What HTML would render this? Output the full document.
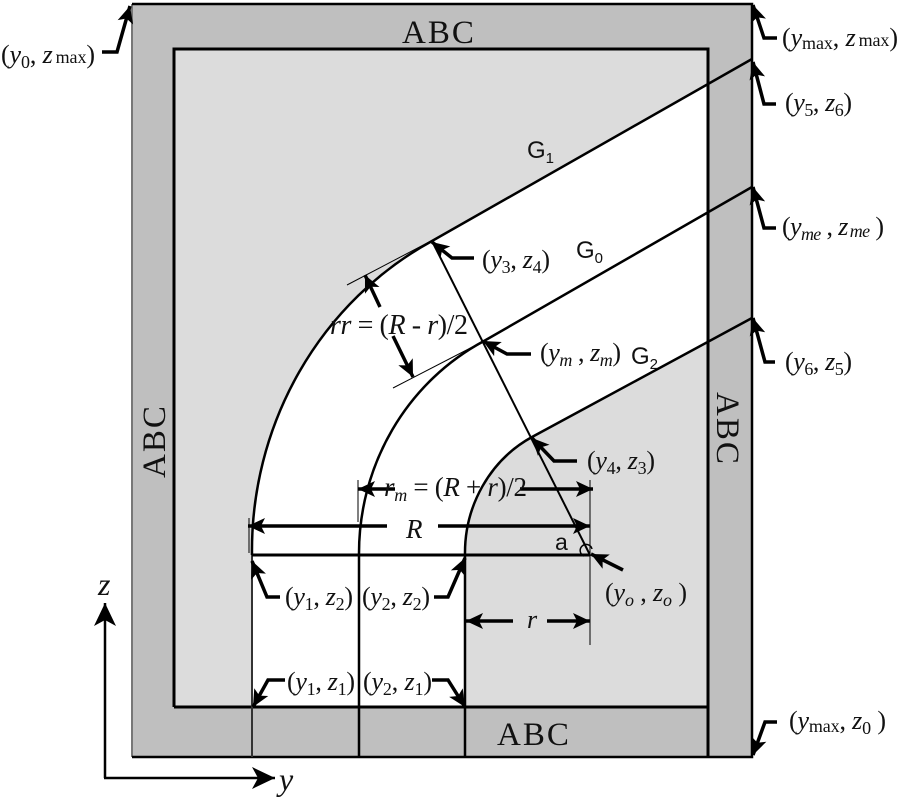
<!DOCTYPE html>
<html><head><meta charset="utf-8"><style>
html,body{margin:0;padding:0;background:#fff}
svg{display:block}
text{font-family:"Liberation Serif",serif;font-size:26px;fill:#111}
.s{font-size:18px}
.i{font-style:italic}
.g{font-family:"Liberation Sans",sans-serif;font-size:24px}
.gs{font-family:"Liberation Sans",sans-serif;font-size:15px}
.abc{font-size:33px;letter-spacing:2px}
</style></head><body>
<svg width="900" height="800" viewBox="0 0 900 800" xmlns="http://www.w3.org/2000/svg">
<defs>
<marker id="a" markerUnits="userSpaceOnUse" markerWidth="22" markerHeight="22" refX="18" refY="11" orient="auto">
<path d="M18 11 L1 3 L5 11 L1 19 Z" fill="#000"/>
</marker>
<marker id="b" markerUnits="userSpaceOnUse" markerWidth="30" markerHeight="30" refX="24" refY="15" orient="auto">
<path d="M24 15 L1 4 L7 15 L1 26 Z" fill="#000"/>
</marker>
</defs>
<rect x="132" y="4" width="620" height="753" fill="#bfbfbf"/>
<path d="M132 757V4" stroke="#777" stroke-width="2"/>
<path d="M132 4H752V757H132" fill="none" stroke="#000" stroke-width="2.5"/>
<rect x="174" y="49" width="534" height="658" fill="#dcdcdc"/>
<path d="M252 707V555A338 350 0 0 1 432 241L708 84V342L532 437A125 131 0 0 0 465 555V707Z" fill="#fff"/>
<path d="M174 707V49H708V757M174 707H708" fill="none" stroke="#000" stroke-width="3"/>
<g fill="none" stroke="#000">
<path d="M252 555A338 350 0 0 1 432 241L752 59" stroke-width="2.5"/>
<path d="M359 555A231 239 0 0 1 484 341L752 187" stroke-width="2.5"/>
<path d="M465 555A125 131 0 0 1 532 437L752 318" stroke-width="2.5"/>
<path d="M252 555V757" stroke="#333" stroke-width="2"/>
<path d="M359 555V757" stroke-width="2.5"/>
<path d="M465 555V757" stroke-width="2.5"/>
<path d="M252 555H590" stroke-width="3"/>
<path d="M590 555L432 241" stroke-width="2"/>
<path d="M590 480V645M249 518V553M358 480V522" stroke-width="1"/>
<path d="M347 285L431 241M393 388L484 341" stroke-width="1"/>
<path d="M584 556A6 6 0 1 1 592 549" stroke-width="1.5"/>
<g stroke-width="3.5" marker-end="url(#a)">
<path d="M102 52H117L130 6"/>
<path d="M777 38H764L753 5"/>
<path d="M776 104H764L753 62"/>
<path d="M776 228H764L753 187"/>
<path d="M775 362H765L753 318"/>
<path d="M777 722H765L753 755"/>
<path d="M474 258H452L432 242"/>
<path d="M531 354H507L483 341"/>
<path d="M577 461H554L532 438"/>
<path d="M623 570L591 554"/>
<path d="M280 597H267L252 561"/>
<path d="M434 597H448L465 558"/>
<path d="M285 680H268L253 707"/>
<path d="M432 680H448L465 707"/>
<path d="M380 307L365 275"/>
<path d="M393 336L413 377"/>
<path d="M395 489H358"/>
<path d="M520 489H593"/>
<path d="M387 526H248"/>
<path d="M438 526H590"/>
<path d="M513 621H466"/>
<path d="M547 621H590"/>
</g>
<g stroke-width="2.5" marker-end="url(#b)">
<path d="M105 778V603"/>
<path d="M104 778H275"/>
</g>
</g>

<text class="abc" x="402" y="43">ABC</text>
<text class="abc" x="497" y="745">ABC</text>
<text class="abc" transform="translate(165,478) rotate(-90)">ABC</text>
<text class="abc" transform="translate(717,392) rotate(90)">ABC</text>

<text x="1" y="63" textLength="94">(<tspan class="i">y</tspan><tspan class="s" dy="5">0</tspan><tspan dy="-5">, </tspan><tspan class="i">z</tspan><tspan class="s" dx="3">max</tspan>)</text>
<text x="782" y="46" textLength="116">(<tspan class="i">y</tspan><tspan class="s" dy="3">max</tspan><tspan dy="-3">, </tspan><tspan class="i">z</tspan><tspan class="s" dx="3">max</tspan>)</text>
<text x="785" y="111" textLength="67">(<tspan class="i">y</tspan><tspan class="s" dy="5">5</tspan><tspan dy="-5">, </tspan><tspan class="i">z</tspan><tspan class="s" dy="5">6</tspan><tspan dy="-5">)</tspan></text>
<text x="782" y="235" textLength="102">(<tspan class="i">y</tspan><tspan class="s i" dy="5">me</tspan><tspan dy="-5"> , </tspan><tspan class="i">z</tspan><tspan class="s i" dx="2" dy="2">me</tspan><tspan dy="-2"> )</tspan></text>
<text x="785" y="370" textLength="67">(<tspan class="i">y</tspan><tspan class="s" dy="5">6</tspan><tspan dy="-5">, </tspan><tspan class="i">z</tspan><tspan class="s" dy="5">5</tspan><tspan dy="-5">)</tspan></text>
<text x="789" y="729" textLength="97">(<tspan class="i">y</tspan><tspan class="s" dy="3">max</tspan><tspan dy="-3">, </tspan><tspan class="i">z</tspan><tspan class="s" dy="5">0</tspan><tspan dy="-5"> )</tspan></text>
<text x="482" y="268" textLength="68">(<tspan class="i">y</tspan><tspan class="s" dy="5">3</tspan><tspan dy="-5">, </tspan><tspan class="i">z</tspan><tspan class="s" dy="5">4</tspan><tspan dy="-5">)</tspan></text>
<text x="540" y="361" textLength="81">(<tspan class="i">y</tspan><tspan class="s i" dy="5">m</tspan><tspan dy="-5"> , </tspan><tspan class="i">z</tspan><tspan class="s i" dy="5">m</tspan><tspan dy="-5">)</tspan></text>
<text x="587" y="469" textLength="68">(<tspan class="i">y</tspan><tspan class="s" dy="5">4</tspan><tspan dy="-5">, </tspan><tspan class="i">z</tspan><tspan class="s" dy="5">3</tspan><tspan dy="-5">)</tspan></text>
<text x="605" y="601" textLength="82">(<tspan class="i">y</tspan><tspan class="s i" dy="5">o</tspan><tspan dy="-5"> , </tspan><tspan class="i">z</tspan><tspan class="s i" dy="5">o</tspan><tspan dy="-5"> )</tspan></text>
<text x="285" y="605" textLength="68">(<tspan class="i">y</tspan><tspan class="s" dy="5">1</tspan><tspan dy="-5">, </tspan><tspan class="i">z</tspan><tspan class="s" dy="5">2</tspan><tspan dy="-5">)</tspan></text>
<text x="362" y="605" textLength="68">(<tspan class="i">y</tspan><tspan class="s" dy="5">2</tspan><tspan dy="-5">, </tspan><tspan class="i">z</tspan><tspan class="s" dy="5">2</tspan><tspan dy="-5">)</tspan></text>
<text x="287" y="690" textLength="68">(<tspan class="i">y</tspan><tspan class="s" dy="5">1</tspan><tspan dy="-5">, </tspan><tspan class="i">z</tspan><tspan class="s" dy="5">1</tspan><tspan dy="-5">)</tspan></text>
<text x="363" y="690" textLength="69">(<tspan class="i">y</tspan><tspan class="s" dy="5">2</tspan><tspan dy="-5">, </tspan><tspan class="i">z</tspan><tspan class="s" dy="5">1</tspan><tspan dy="-5">)</tspan></text>

<text x="330" y="334" textLength="138" style="font-size:28px"><tspan class="i">rr</tspan> = (<tspan class="i">R</tspan> - <tspan class="i">r</tspan>)/2</text>
<text x="384" y="496" textLength="143" style="font-size:27px"><tspan class="i">r</tspan><tspan class="s i" dy="5">m</tspan><tspan dy="-5"> = (</tspan><tspan class="i">R</tspan> + <tspan class="i">r</tspan>)/2</text>
<text class="i" x="406" y="538" style="font-size:27px">R</text>
<text class="i" x="527" y="628">r</text>
<text class="i" x="98" y="595" style="font-size:32px">z</text>
<text class="i" x="279" y="790" style="font-size:32px">y</text>

<text class="g" x="527" y="158">G<tspan class="gs" dy="5">1</tspan></text>
<text class="g" x="576" y="258">G<tspan class="gs" dy="5">0</tspan></text>
<text class="g" x="631" y="364">G<tspan class="gs" dy="5">2</tspan></text>
<text class="g" x="555" y="550" style="font-size:23px">a</text>
</svg>
</body></html>
